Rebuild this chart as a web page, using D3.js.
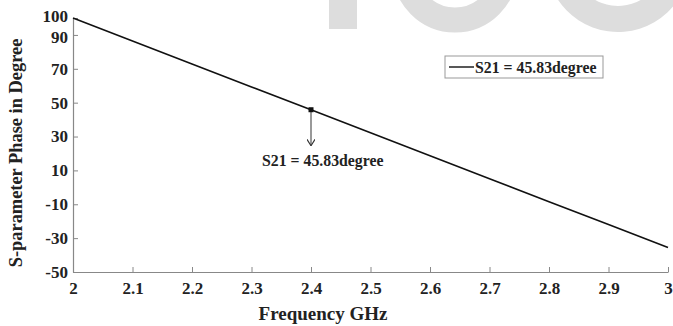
<!DOCTYPE html>
<html>
<head>
<meta charset="utf-8">
<script src="https://cdn.jsdelivr.net/npm/d3@7"></script>
<style>
  body { margin: 0; background: #fff; }
  text { font-family: "Liberation Serif", "Times New Roman", serif; font-weight: bold; fill: #222; }
</style>
</head>
<body>
<svg id="chart" width="673" height="326"></svg>
<script>
var freq = [2, 2.1, 2.2, 2.3, 2.4, 2.5, 2.6, 2.7, 2.8, 2.9, 3];
var phase = [100, 86.4, 72.9, 59.3, 45.83, 32.2, 18.6, 5.1, -8.5, -22.0, -35.6];
var xTicks = [2, 2.1, 2.2, 2.3, 2.4, 2.5, 2.6, 2.7, 2.8, 2.9, 3];
var yTicks = [100, 90, 70, 50, 30, 10, -10, -30, -50];
var marker = {f: 2.4, v: 45.83, label: "S21 = 45.83degree"};
var legendLabel = "S21 = 45.83degree";

var svg = d3.select("#chart"),
    margin = {left: 73, right: 5, top: 18, bottom: 54},
    W = +svg.attr("width"), H = +svg.attr("height");

var x = d3.scaleLinear().domain([2, 3]).range([margin.left, W - margin.right]),
    y = d3.scaleLinear().domain([-50, 100]).range([H - margin.bottom, margin.top]);

//
// watermark behind the plot
var wm = svg.append("g").attr("fill", "none").attr("stroke", "#dddddd");
wm.append("rect").attr("x", 329).attr("y", -5).attr("width", 28).attr("height", 34)
  .attr("fill", "#dddddd").attr("stroke", "none");
wm.append("circle").attr("cx", 455).attr("cy", -30).attr("r", 50).attr("stroke-width", 25);
wm.append("path").attr("d", d3.arc()({innerRadius: 46, outerRadius: 72, startAngle: Math.PI * 0.62, endAngle: Math.PI * 1.75}))
  .attr("transform", "translate(618,-40)").attr("fill", "#dddddd").attr("stroke", "none");

//
// axes
var fmt = function(d) { return String(d); };
var xAxis = svg.append("g").attr("transform", "translate(0," + y(-50) + ")")
  .call(d3.axisBottom(x).tickValues(xTicks).tickFormat(fmt).tickSizeInner(-5).tickSizeOuter(0).tickPadding(10));
var yAxis = svg.append("g").attr("transform", "translate(" + x(2) + ",0)")
  .call(d3.axisLeft(y).tickValues(yTicks).tickFormat(fmt).tickSizeInner(-5).tickSizeOuter(0).tickPadding(5));
[xAxis, yAxis].forEach(function(g) {
  g.select(".domain").attr("stroke", "#888").attr("stroke-width", 1.2);
  g.selectAll(".tick line").attr("stroke", "#888");
  g.selectAll(".tick text").attr("font-size", 17).attr("fill", "#222")
    .attr("font-family", "Liberation Serif, serif").attr("font-weight", "bold");
});
// 100 and 90 sit close together, nudge them apart a little
yAxis.selectAll(".tick text").filter(function(d) { return d === 100; }).attr("dy", "0.2em");
yAxis.selectAll(".tick text").filter(function(d) { return d === 90; }).attr("dy", "0.42em");

svg.append("text").attr("x", 323).attr("y", 320).attr("text-anchor", "middle")
  .attr("font-size", 19).text("Frequency GHz");
svg.append("text").attr("transform", "translate(22," + 153 + ") rotate(-90)")
  .attr("text-anchor", "middle").attr("font-size", 18.4).text("S-parameter Phase in Degree");

//
// series
var pts = freq.map(function(f, i) { return [f, phase[i]]; });
svg.append("path").datum(pts)
  .attr("fill", "none").attr("stroke", "#111").attr("stroke-width", 1.6)
  .attr("d", d3.line().x(function(d) { return x(d[0]); }).y(function(d) { return y(d[1]); }));

//
// data tip
var mx = x(marker.f), my = y(marker.v);
svg.append("defs").append("marker").attr("id", "ah").attr("viewBox", "0 0 10 10")
  .attr("refX", 10).attr("refY", 5).attr("markerWidth", 8).attr("markerHeight", 8)
  .attr("markerUnits", "userSpaceOnUse").attr("orient", "auto")
  .append("path").attr("d", "M2,0 L10,5 L2,10").attr("fill", "none").attr("stroke", "#333").attr("stroke-width", 1.4);
svg.append("line").attr("x1", mx).attr("x2", mx).attr("y1", my).attr("y2", my + 36)
  .attr("stroke", "#555").attr("stroke-width", 1.2).attr("marker-end", "url(#ah)");
svg.append("rect").attr("x", mx - 2.5).attr("y", my - 2.5).attr("width", 5).attr("height", 5).attr("fill", "#111");
svg.append("text").attr("x", 262).attr("y", 166).attr("font-size", 15.8).text(marker.label);

//
// legend
var lg = svg.append("g").attr("transform", "translate(445,56)");
lg.append("rect").attr("width", 158).attr("height", 22).attr("fill", "#fff").attr("stroke", "#999");
lg.append("line").attr("x1", 4).attr("x2", 29).attr("y1", 11).attr("y2", 11).attr("stroke", "#111").attr("stroke-width", 1.4);
lg.append("text").attr("x", 30).attr("y", 16.5).attr("font-size", 15.8).text(legendLabel);
</script>
</body>
</html>
